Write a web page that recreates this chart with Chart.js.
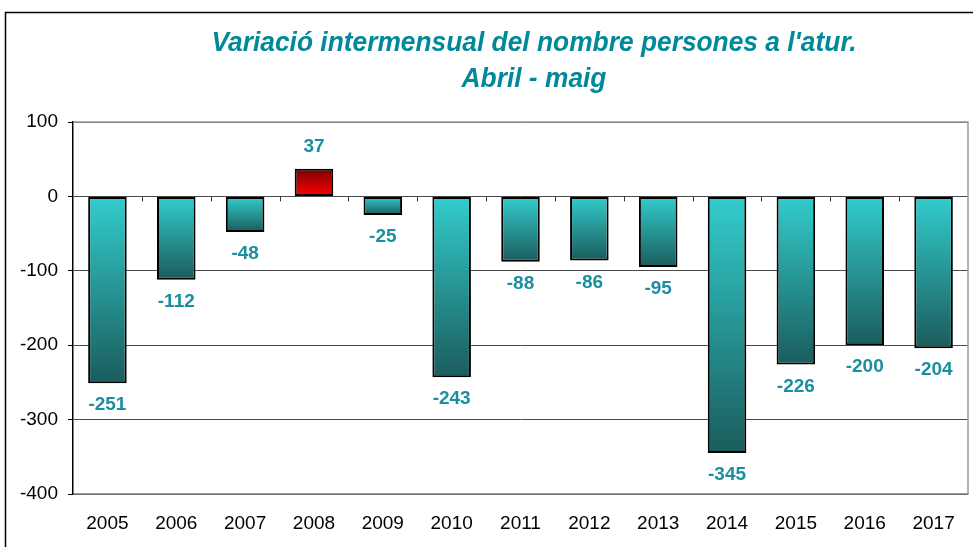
<!DOCTYPE html>
<html>
<head>
<meta charset="utf-8">
<script src="https://cdn.jsdelivr.net/npm/chart.js@4"></script>
<style>
  html, body { margin: 0; padding: 0; background: #fff; }
  #wrap { width: 973px; height: 547px; }
</style>
</head>
<body>
<div id="wrap"><canvas id="myChart" width="973" height="547"></canvas></div>
<script>
const years = ["2005", "2006", "2007", "2008", "2009", "2010", "2011", "2012", "2013", "2014", "2015", "2016", "2017"];
const variation = [-251, -112, -48, 37, -25, -243, -88, -86, -95, -345, -226, -200, -204];
const yTicks = [100, 0, -100, -200, -300, -400];
const titleLines = ["Variació intermensual del nombre persones a l'atur.", "Abril - maig"];

const FONT = "'Liberation Sans', Arial, sans-serif";

function barFill(ctx) {
  const chart = ctx.chart;
  const y = chart.scales.y;
  if (!chart.chartArea || !y || ctx.parsed == null) return '#33cccc';
  const v = ctx.parsed.y;
  const y0 = y.getPixelForValue(0);
  const y1 = y.getPixelForValue(v);
  const g = chart.ctx.createLinearGradient(0, Math.min(y0, y1), 0, Math.max(y0, y1));
  if (v >= 0) {
    g.addColorStop(0, '#7a0000');
    g.addColorStop(1, '#ff0000');
  } else {
    g.addColorStop(0, '#33cccc');
    g.addColorStop(1, '#1b5c5c');
  }
  return g;
}

const extras = {
  id: 'extras',
  beforeDraw(chart) {
    const c = chart.ctx;
    c.save();
    c.fillStyle = '#fff';
    c.fillRect(0, 0, chart.width, chart.height);
    c.strokeStyle = '#000';
    c.lineWidth = 1.5;
    c.strokeRect(5.5, 12.5, 1000, 600);
    c.restore();
  },
  afterDatasetsDraw(chart) {
    const c = chart.ctx;
    const a = chart.chartArea;
    const x = chart.scales.x;
    const y = chart.scales.y;
    c.save();
    // plot frame (top / right)
    c.strokeStyle = '#9a9a9a';
    c.lineWidth = 1.5;
    c.beginPath();
    c.moveTo(a.left, a.top);
    c.lineTo(a.right, a.top);
    c.lineTo(a.right, a.bottom);
    c.stroke();
    // category ticks on the zero line
    const y0 = y.getPixelForValue(0);
    c.strokeStyle = '#333';
    c.lineWidth = 1;
    for (let i = 1; i < years.length; i++) {
      const px = Math.round((x.getPixelForValue(i - 1) + x.getPixelForValue(i)) / 2) + 0.5;
      c.beginPath();
      c.moveTo(px, y0);
      c.lineTo(px, y0 + 5);
      c.stroke();
    }
    // value labels
    c.fillStyle = '#1b8ea0';
    c.font = 'bold 19px ' + FONT;
    c.textAlign = 'center';
    c.textBaseline = 'middle';
    chart.getDatasetMeta(0).data.forEach((bar, i) => {
      const v = variation[i];
      const py = v >= 0 ? bar.y - 22 : bar.y + 22;
      c.fillText(String(v), bar.x, py);
    });
    c.restore();
  },
  afterDraw(chart) {
    const c = chart.ctx;
    c.save();
    c.fillStyle = '#00899a';
    c.font = 'italic bold 28px ' + FONT;
    c.textAlign = 'center';
    c.textBaseline = 'middle';
    const sx = 645 / c.measureText(titleLines[0]).width;
    c.translate(534, 0);
    c.scale(sx, 1);
    c.fillText(titleLines[0], 0, 43);
    c.fillText(titleLines[1], 0, 79);
    c.restore();
  }
};

const data = {
  labels: years,
  datasets: [{
    data: variation,
    backgroundColor: barFill,
    borderColor: '#000',
    borderWidth: 2,
    borderSkipped: false,
    categoryPercentage: 1,
    barPercentage: 0.56
  }]
};

const config = {
  type: 'bar',
  data: data,
  options: {
    responsive: false,
    animation: false,
    layout: {
      padding: { left: 19, right: 5, top: 122, bottom: 0 }
    },
    plugins: {
      legend: { display: false },
      title: { display: false },
      tooltip: { enabled: false }
    },
    scales: {
      x: {
        afterFit(scale) { scale.height = 53; },
        grid: { display: false },
        border: { color: '#9a9a9a', width: 1.5 },
        ticks: {
          color: '#000',
          padding: 10,
          font: { family: FONT, size: 19 }
        }
      },
      y: {
        min: -400,
        max: 100,
        afterFit(scale) { scale.width = 54; },
        afterBuildTicks(scale) {
          scale.ticks = yTicks.map(v => ({ value: v }));
        },
        grid: {
          color: '#4a4a4a',
          tickColor: '#000',
          tickLength: 5,
          lineWidth: 1
        },
        border: { color: '#000', width: 1.5 },
        ticks: {
          color: '#000',
          padding: 10,
          font: { family: FONT, size: 19 }
        }
      }
    }
  },
  plugins: [extras]
};

const myChart = new Chart(document.getElementById('myChart'), config);
</script>
</body>
</html>
